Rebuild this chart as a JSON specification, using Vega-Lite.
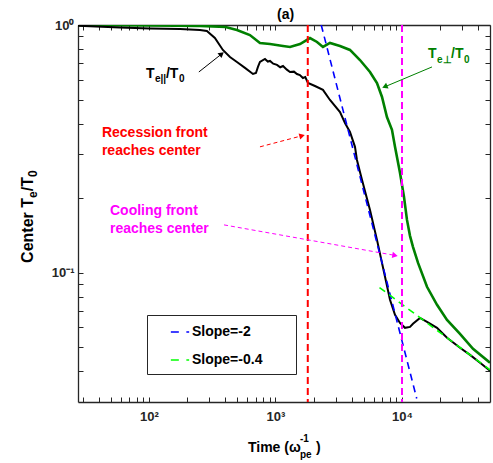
{
  "$schema": "https://vega.github.io/schema/vega-lite/v6.json",
  "width": 412,
  "height": 377,
  "autosize": "none",
  "padding": {"left": 78, "top": 25, "right": 3, "bottom": 61},
  "background": "white",
  "config": {
    "font": "Liberation Sans",
    "view": {"stroke": null},
    "axis": {"grid": false, "domainColor": "#262626", "domainWidth": 1.3, "tickColor": "#262626", "tickWidth": 1, "labelFont": "Liberation Sans", "labelFontWeight": "bold", "labelFontSize": 13, "labelColor": "#262626", "labelOverlap": false, "labelFlush": false}
  },
  "datasets": {
    "curves": [
      {"t": 27.5, "v": 0.994, "s": "par"}, {"t": 59, "v": 0.977, "s": "par"}, {"t": 102, "v": 0.968, "s": "par"}, {"t": 176, "v": 0.963, "s": "par"}, {"t": 253, "v": 0.955, "s": "par"}, {"t": 287, "v": 0.946, "s": "par"}, {"t": 332, "v": 0.886, "s": "par"}, {"t": 384, "v": 0.793, "s": "par"}, {"t": 437, "v": 0.743, "s": "par"}, {"t": 496, "v": 0.709, "s": "par"}, {"t": 574, "v": 0.671, "s": "par"}, {"t": 664, "v": 0.634, "s": "par"}, {"t": 701, "v": 0.640, "s": "par"}, {"t": 727, "v": 0.677, "s": "par"}, {"t": 754, "v": 0.709, "s": "par"}, {"t": 826, "v": 0.729, "s": "par"}, {"t": 870, "v": 0.712, "s": "par"}, {"t": 905, "v": 0.716, "s": "par"}, {"t": 960, "v": 0.698, "s": "par"}, {"t": 1028, "v": 0.690, "s": "par"}, {"t": 1090, "v": 0.675, "s": "par"}, {"t": 1147, "v": 0.683, "s": "par"}, {"t": 1230, "v": 0.660, "s": "par"}, {"t": 1303, "v": 0.646, "s": "par"}, {"t": 1400, "v": 0.648, "s": "par"}, {"t": 1479, "v": 0.634, "s": "par"}, {"t": 1560, "v": 0.628, "s": "par"}, {"t": 1649, "v": 0.611, "s": "par"}, {"t": 1720, "v": 0.616, "s": "par"}, {"t": 1807, "v": 0.583, "s": "par"}, {"t": 2052, "v": 0.567, "s": "par"}, {"t": 2373, "v": 0.547, "s": "par"}, {"t": 2697, "v": 0.498, "s": "par"}, {"t": 3236, "v": 0.445, "s": "par"}, {"t": 3543, "v": 0.402, "s": "par"}, {"t": 3880, "v": 0.370, "s": "par"}, {"t": 4250, "v": 0.322, "s": "par"}, {"t": 4405, "v": 0.285, "s": "par"}, {"t": 4827, "v": 0.237, "s": "par"}, {"t": 5585, "v": 0.179, "s": "par"}, {"t": 6343, "v": 0.1355, "s": "par"}, {"t": 7341, "v": 0.0961, "s": "par"}, {"t": 8036, "v": 0.0776, "s": "par"}, {"t": 8804, "v": 0.0675, "s": "par"}, {"t": 9640, "v": 0.0626, "s": "par"}, {"t": 10560, "v": 0.0598, "s": "par"}, {"t": 11570, "v": 0.0603, "s": "par"}, {"t": 12210, "v": 0.0621, "s": "par"}, {"t": 13870, "v": 0.0656, "s": "par"}, {"t": 15770, "v": 0.0632, "s": "par"}, {"t": 18910, "v": 0.0598, "s": "par"}, {"t": 22690, "v": 0.0545, "s": "par"}, {"t": 28730, "v": 0.0497, "s": "par"}, {"t": 34480, "v": 0.0465, "s": "par"}, {"t": 41390, "v": 0.0432, "s": "par"}, {"t": 49600, "v": 0.0401, "s": "par"},
      {"t": 27.5, "v": 1.0, "s": "perp"}, {"t": 102, "v": 0.995, "s": "perp"}, {"t": 253, "v": 0.991, "s": "perp"}, {"t": 403, "v": 0.982, "s": "perp"}, {"t": 496, "v": 0.955, "s": "perp"}, {"t": 628, "v": 0.911, "s": "perp"}, {"t": 754, "v": 0.846, "s": "perp"}, {"t": 905, "v": 0.838, "s": "perp"}, {"t": 1147, "v": 0.823, "s": "perp"}, {"t": 1303, "v": 0.815, "s": "perp"}, {"t": 1563, "v": 0.838, "s": "perp"}, {"t": 1875, "v": 0.886, "s": "perp"}, {"t": 2130, "v": 0.854, "s": "perp"}, {"t": 2373, "v": 0.815, "s": "perp"}, {"t": 2697, "v": 0.846, "s": "perp"}, {"t": 3236, "v": 0.823, "s": "perp"}, {"t": 3880, "v": 0.793, "s": "perp"}, {"t": 4654, "v": 0.722, "s": "perp"}, {"t": 5585, "v": 0.646, "s": "perp"}, {"t": 6343, "v": 0.583, "s": "perp"}, {"t": 6950, "v": 0.512, "s": "perp"}, {"t": 7603, "v": 0.425, "s": "perp"}, {"t": 8331, "v": 0.377, "s": "perp"}, {"t": 8804, "v": 0.322, "s": "perp"}, {"t": 9640, "v": 0.253, "s": "perp"}, {"t": 10370, "v": 0.2021, "s": "perp"}, {"t": 10950, "v": 0.1632, "s": "perp"}, {"t": 11570, "v": 0.1407, "s": "perp"}, {"t": 12210, "v": 0.127, "s": "perp"}, {"t": 13390, "v": 0.1094, "s": "perp"}, {"t": 15760, "v": 0.0876, "s": "perp"}, {"t": 18910, "v": 0.0741, "s": "perp"}, {"t": 22690, "v": 0.0644, "s": "perp"}, {"t": 28730, "v": 0.0565, "s": "perp"}, {"t": 36410, "v": 0.0492, "s": "perp"}, {"t": 49600, "v": 0.0432, "s": "perp"}
    ],
    "fits": [
      {"t": 2300, "v": 1.0, "s": "Slope=-2"}, {"t": 13070, "v": 0.031, "s": "Slope=-2"},
      {"t": 6640, "v": 0.087, "s": "Slope=-0.4"}, {"t": 49600, "v": 0.0405, "s": "Slope=-0.4"}
    ],
    "fronts": [{"t": 1800, "s": "rec"}, {"t": 10000, "s": "cool"}],
    "arrows": [
      {"id": "a1", "t": 248, "v": 0.646, "t2": 375.5, "v2": 0.764},
      {"id": "a2", "t": 17260, "v": 0.677, "t2": 7311, "v2": 0.5629},
      {"id": "a3", "t": 754, "v": 0.322, "t2": 1623, "v2": 0.357},
      {"id": "a4", "t": 392, "v": 0.1558, "t2": 8806, "v2": 0.1173}
    ],
    "labels": [
      {"g": "red", "t": 42.5, "v": 0.353, "txt": "Recession front"},
      {"g": "red", "t": 42.5, "v": 0.2986, "txt": "reaches center"},
      {"g": "mag", "t": 49.2, "v": 0.171, "txt": "Cooling front"},
      {"g": "mag", "t": 49.2, "v": 0.1446, "txt": "reaches center"},
      {"g": "kbig", "t": 94.7, "v": 0.611, "txt": "T"},
      {"g": "kbig", "t": 136.2, "v": 0.611, "txt": "/T"},
      {"g": "kbig", "t": 606, "v": 0.01888, "txt": "Time (ω"},
      {"g": "kbig", "t": 2090, "v": 0.01888, "txt": ")"},
      {"g": "kbig", "t": 1028, "v": 1.057, "txt": "(a)"},
      {"g": "ksmall", "t": 111.5, "v": 0.589, "txt": "e||"},
      {"g": "ksmall", "t": 172.6, "v": 0.589, "txt": "0"},
      {"g": "ksmall", "t": 1562, "v": 0.02072, "txt": "-1"},
      {"g": "ksmall", "t": 1562, "v": 0.01786, "txt": "pe"},
      {"g": "gbig", "t": 16050, "v": 0.736, "txt": "T"},
      {"g": "gbig", "t": 24400, "v": 0.736, "txt": "/T"},
      {"g": "gsmall", "t": 18910, "v": 0.702, "txt": "e⊥"},
      {"g": "gsmall", "t": 30900, "v": 0.702, "txt": "0"},
      {"g": "ybig", "t": 12.1, "v": 0.1094, "txt": "Center T"},
      {"g": "ybig", "t": 12.1, "v": 0.2131, "txt": "/T"},
      {"g": "ysmall", "t": 13.14, "v": 0.2002, "txt": "e"},
      {"g": "ysmall", "t": 13.14, "v": 0.2433, "txt": "0"}
    ]
  },
  "layer": [
    {
      "data": {"name": "curves"},
      "transform": [{"filter": "datum.s == 'perp'"}],
      "mark": {"type": "line", "color": "#008000", "strokeWidth": 2.6, "clip": true},
      "encoding": {
        "x": {"field": "t", "type": "quantitative", "scale": {"type": "log", "domain": [27.5, 49600], "nice": false}, "axis": {"orient": "top", "title": null, "labels": false, "tickSize": -5, "values": [30, 40, 50, 60, 70, 80, 90, 100, 200, 300, 400, 500, 600, 700, 800, 900, 1000, 2000, 3000, 4000, 5000, 6000, 7000, 8000, 9000, 10000, 20000, 30000, 40000]}},
        "y": {"field": "v", "type": "quantitative", "scale": {"type": "log", "domain": [0.03, 1], "nice": false}, "axis": {"orient": "right", "title": null, "labels": false, "tickSize": -5, "values": [0.04, 0.05, 0.06, 0.07, 0.08, 0.09, 0.1, 0.2, 0.3, 0.4, 0.5, 0.6, 0.7, 0.8, 0.9, 1]}}
      }
    },
    {
      "data": {"name": "curves"},
      "transform": [{"filter": "datum.s == 'par'"}],
      "mark": {"type": "line", "color": "black", "strokeWidth": 2, "clip": true},
      "encoding": {
        "x": {"field": "t", "type": "quantitative", "scale": {"type": "log", "domain": [27.5, 49600], "nice": false}, "axis": {"orient": "bottom", "title": null, "tickSize": -5, "labelPadding": 13, "values": [30, 40, 50, 60, 70, 80, 90, 100, 200, 300, 400, 500, 600, 700, 800, 900, 1000, 2000, 3000, 4000, 5000, 6000, 7000, 8000, 9000, 10000, 20000, 30000, 40000], "labelExpr": "datum.value == 100 ? '10²' : datum.value == 1000 ? '10³' : datum.value == 10000 ? '10⁴' : ''"}},
        "y": {"field": "v", "type": "quantitative", "scale": {"type": "log", "domain": [0.03, 1], "nice": false}, "axis": {"orient": "left", "title": null, "tickSize": -5, "labelPadding": 9, "values": [0.04, 0.05, 0.06, 0.07, 0.08, 0.09, 0.1, 0.2, 0.3, 0.4, 0.5, 0.6, 0.7, 0.8, 0.9, 1], "labelExpr": "datum.value == 1 ? '10⁰' : datum.value == 0.1 ? '10⁻¹' : ''"}}
      }
    },
    {
      "data": {"name": "fits"},
      "mark": {"type": "line", "strokeWidth": 1.6, "strokeDash": [7, 5], "clip": true},
      "encoding": {
        "x": {"field": "t", "type": "quantitative", "scale": {"type": "log", "domain": [27.5, 49600], "nice": false}, "axis": null},
        "y": {"field": "v", "type": "quantitative", "scale": {"type": "log", "domain": [0.03, 1], "nice": false}, "axis": null},
        "color": {"field": "s", "type": "nominal", "scale": {"domain": ["Slope=-2", "Slope=-0.4"], "range": ["#0000FF", "#00FF00"]},
          "legend": {"orient": "none", "legendX": 69, "legendY": 290, "title": "MMM", "titleOrient": "right", "titleFontSize": 10.8, "titleOpacity": 0, "titlePadding": 0, "symbolType": "stroke", "symbolStrokeWidth": 1.5, "symbolDash": [8, 7.5], "symbolSize": 335, "labelFont": "Liberation Sans", "labelFontSize": 14, "labelFontWeight": "bold", "labelColor": "black", "strokeColor": "#262626", "fillColor": "white", "padding": 7, "rowPadding": 11, "symbolOffset": 16, "labelOffset": 2}}
      }
    },
    {
      "data": {"name": "fronts"},
      "transform": [{"filter": "datum.s == 'rec'"}],
      "mark": {"type": "rule", "color": "#FF0000", "strokeWidth": 2, "strokeDash": [7, 4]},
      "encoding": {"x": {"field": "t", "type": "quantitative", "scale": {"type": "log", "domain": [27.5, 49600], "nice": false}, "axis": null}}
    },
    {
      "data": {"name": "fronts"},
      "transform": [{"filter": "datum.s == 'cool'"}],
      "mark": {"type": "rule", "color": "#FF00FF", "strokeWidth": 2, "strokeDash": [7, 4]},
      "encoding": {"x": {"field": "t", "type": "quantitative", "scale": {"type": "log", "domain": [27.5, 49600], "nice": false}, "axis": null}}
    },
    {
      "data": {"name": "arrows"},
      "transform": [{"filter": "datum.id == 'a1'"}],
      "mark": {"type": "rule", "color": "black", "strokeWidth": 1},
      "encoding": {
        "x": {"field": "t", "type": "quantitative", "scale": {"type": "log", "domain": [27.5, 49600], "nice": false}, "axis": null},
        "y": {"field": "v", "type": "quantitative", "scale": {"type": "log", "domain": [0.03, 1], "nice": false}, "axis": null},
        "x2": {"field": "t2"}, "y2": {"field": "v2"}
      }
    },
    {
      "data": {"name": "arrows"},
      "transform": [{"filter": "datum.id == 'a2'"}],
      "mark": {"type": "rule", "color": "#008000", "strokeWidth": 1},
      "encoding": {
        "x": {"field": "t", "type": "quantitative", "scale": {"type": "log", "domain": [27.5, 49600], "nice": false}, "axis": null},
        "y": {"field": "v", "type": "quantitative", "scale": {"type": "log", "domain": [0.03, 1], "nice": false}, "axis": null},
        "x2": {"field": "t2"}, "y2": {"field": "v2"}
      }
    },
    {
      "data": {"name": "arrows"},
      "transform": [{"filter": "datum.id == 'a3'"}],
      "mark": {"type": "rule", "color": "#FF0000", "strokeWidth": 1, "strokeDash": [4, 3]},
      "encoding": {
        "x": {"field": "t", "type": "quantitative", "scale": {"type": "log", "domain": [27.5, 49600], "nice": false}, "axis": null},
        "y": {"field": "v", "type": "quantitative", "scale": {"type": "log", "domain": [0.03, 1], "nice": false}, "axis": null},
        "x2": {"field": "t2"}, "y2": {"field": "v2"}
      }
    },
    {
      "data": {"name": "arrows"},
      "transform": [{"filter": "datum.id == 'a4'"}],
      "mark": {"type": "rule", "color": "#FF00FF", "strokeWidth": 1, "strokeDash": [4, 3]},
      "encoding": {
        "x": {"field": "t", "type": "quantitative", "scale": {"type": "log", "domain": [27.5, 49600], "nice": false}, "axis": null},
        "y": {"field": "v", "type": "quantitative", "scale": {"type": "log", "domain": [0.03, 1], "nice": false}, "axis": null},
        "x2": {"field": "t2"}, "y2": {"field": "v2"}
      }
    },
    {
      "data": {"name": "arrows"},
      "transform": [{"filter": "datum.id == 'a1'"}],
      "mark": {"type": "point", "shape": "triangle-right", "filled": true, "opacity": 1, "size": 40, "color": "black", "angle": 321},
      "encoding": {
        "x": {"field": "t2", "type": "quantitative", "scale": {"type": "log", "domain": [27.5, 49600], "nice": false}, "axis": null},
        "y": {"field": "v2", "type": "quantitative", "scale": {"type": "log", "domain": [0.03, 1], "nice": false}, "axis": null}
      }
    },
    {
      "data": {"name": "arrows"},
      "transform": [{"filter": "datum.id == 'a2'"}],
      "mark": {"type": "point", "shape": "triangle-right", "filled": true, "opacity": 1, "size": 40, "color": "#008000", "angle": 157},
      "encoding": {
        "x": {"field": "t2", "type": "quantitative", "scale": {"type": "log", "domain": [27.5, 49600], "nice": false}, "axis": null},
        "y": {"field": "v2", "type": "quantitative", "scale": {"type": "log", "domain": [0.03, 1], "nice": false}, "axis": null}
      }
    },
    {
      "data": {"name": "arrows"},
      "transform": [{"filter": "datum.id == 'a3'"}],
      "mark": {"type": "point", "shape": "triangle-right", "filled": true, "opacity": 1, "size": 40, "color": "#FF0000", "angle": 345},
      "encoding": {
        "x": {"field": "t2", "type": "quantitative", "scale": {"type": "log", "domain": [27.5, 49600], "nice": false}, "axis": null},
        "y": {"field": "v2", "type": "quantitative", "scale": {"type": "log", "domain": [0.03, 1], "nice": false}, "axis": null}
      }
    },
    {
      "data": {"name": "arrows"},
      "transform": [{"filter": "datum.id == 'a4'"}],
      "mark": {"type": "point", "shape": "triangle-right", "filled": true, "opacity": 1, "size": 40, "color": "#FF00FF", "angle": 10},
      "encoding": {
        "x": {"field": "t2", "type": "quantitative", "scale": {"type": "log", "domain": [27.5, 49600], "nice": false}, "axis": null},
        "y": {"field": "v2", "type": "quantitative", "scale": {"type": "log", "domain": [0.03, 1], "nice": false}, "axis": null}
      }
    },
    {
      "data": {"name": "labels"},
      "transform": [{"filter": "datum.g == 'red'"}],
      "mark": {"type": "text", "align": "left", "baseline": "alphabetic", "font": "Liberation Sans", "fontWeight": "bold", "fontSize": 14, "color": "#FF0000"},
      "encoding": {
        "x": {"field": "t", "type": "quantitative", "scale": {"type": "log", "domain": [27.5, 49600], "nice": false}, "axis": null},
        "y": {"field": "v", "type": "quantitative", "scale": {"type": "log", "domain": [0.03, 1], "nice": false}, "axis": null},
        "text": {"field": "txt"}
      }
    },
    {
      "data": {"name": "labels"},
      "transform": [{"filter": "datum.g == 'mag'"}],
      "mark": {"type": "text", "align": "left", "baseline": "alphabetic", "font": "Liberation Sans", "fontWeight": "bold", "fontSize": 14, "color": "#FF00FF"},
      "encoding": {
        "x": {"field": "t", "type": "quantitative", "scale": {"type": "log", "domain": [27.5, 49600], "nice": false}, "axis": null},
        "y": {"field": "v", "type": "quantitative", "scale": {"type": "log", "domain": [0.03, 1], "nice": false}, "axis": null},
        "text": {"field": "txt"}
      }
    },
    {
      "data": {"name": "labels"},
      "transform": [{"filter": "datum.g == 'kbig'"}],
      "mark": {"type": "text", "align": "left", "baseline": "alphabetic", "font": "Liberation Sans", "fontWeight": "bold", "fontSize": 14, "color": "black"},
      "encoding": {
        "x": {"field": "t", "type": "quantitative", "scale": {"type": "log", "domain": [27.5, 49600], "nice": false}, "axis": null},
        "y": {"field": "v", "type": "quantitative", "scale": {"type": "log", "domain": [0.03, 1], "nice": false}, "axis": null},
        "text": {"field": "txt"}
      }
    },
    {
      "data": {"name": "labels"},
      "transform": [{"filter": "datum.g == 'ksmall'"}],
      "mark": {"type": "text", "align": "left", "baseline": "alphabetic", "font": "Liberation Sans", "fontWeight": "bold", "fontSize": 10, "color": "black"},
      "encoding": {
        "x": {"field": "t", "type": "quantitative", "scale": {"type": "log", "domain": [27.5, 49600], "nice": false}, "axis": null},
        "y": {"field": "v", "type": "quantitative", "scale": {"type": "log", "domain": [0.03, 1], "nice": false}, "axis": null},
        "text": {"field": "txt"}
      }
    },
    {
      "data": {"name": "labels"},
      "transform": [{"filter": "datum.g == 'gbig'"}],
      "mark": {"type": "text", "align": "left", "baseline": "alphabetic", "font": "Liberation Sans", "fontWeight": "bold", "fontSize": 14, "color": "#008000"},
      "encoding": {
        "x": {"field": "t", "type": "quantitative", "scale": {"type": "log", "domain": [27.5, 49600], "nice": false}, "axis": null},
        "y": {"field": "v", "type": "quantitative", "scale": {"type": "log", "domain": [0.03, 1], "nice": false}, "axis": null},
        "text": {"field": "txt"}
      }
    },
    {
      "data": {"name": "labels"},
      "transform": [{"filter": "datum.g == 'gsmall'"}],
      "mark": {"type": "text", "align": "left", "baseline": "alphabetic", "font": "Liberation Sans", "fontWeight": "bold", "fontSize": 10, "color": "#008000"},
      "encoding": {
        "x": {"field": "t", "type": "quantitative", "scale": {"type": "log", "domain": [27.5, 49600], "nice": false}, "axis": null},
        "y": {"field": "v", "type": "quantitative", "scale": {"type": "log", "domain": [0.03, 1], "nice": false}, "axis": null},
        "text": {"field": "txt"}
      }
    },
    {
      "data": {"name": "labels"},
      "transform": [{"filter": "datum.g == 'ybig'"}],
      "mark": {"type": "text", "align": "left", "baseline": "alphabetic", "angle": 270, "font": "Liberation Sans", "fontWeight": "bold", "fontSize": 16, "color": "black"},
      "encoding": {
        "x": {"field": "t", "type": "quantitative", "scale": {"type": "log", "domain": [27.5, 49600], "nice": false}, "axis": null},
        "y": {"field": "v", "type": "quantitative", "scale": {"type": "log", "domain": [0.03, 1], "nice": false}, "axis": null},
        "text": {"field": "txt"}
      }
    },
    {
      "data": {"name": "labels"},
      "transform": [{"filter": "datum.g == 'ysmall'"}],
      "mark": {"type": "text", "align": "left", "baseline": "alphabetic", "angle": 270, "font": "Liberation Sans", "fontWeight": "bold", "fontSize": 12, "color": "black"},
      "encoding": {
        "x": {"field": "t", "type": "quantitative", "scale": {"type": "log", "domain": [27.5, 49600], "nice": false}, "axis": null},
        "y": {"field": "v", "type": "quantitative", "scale": {"type": "log", "domain": [0.03, 1], "nice": false}, "axis": null},
        "text": {"field": "txt"}
      }
    }
  ],
  "resolve": {"axis": {"x": "independent", "y": "independent"}}
}
